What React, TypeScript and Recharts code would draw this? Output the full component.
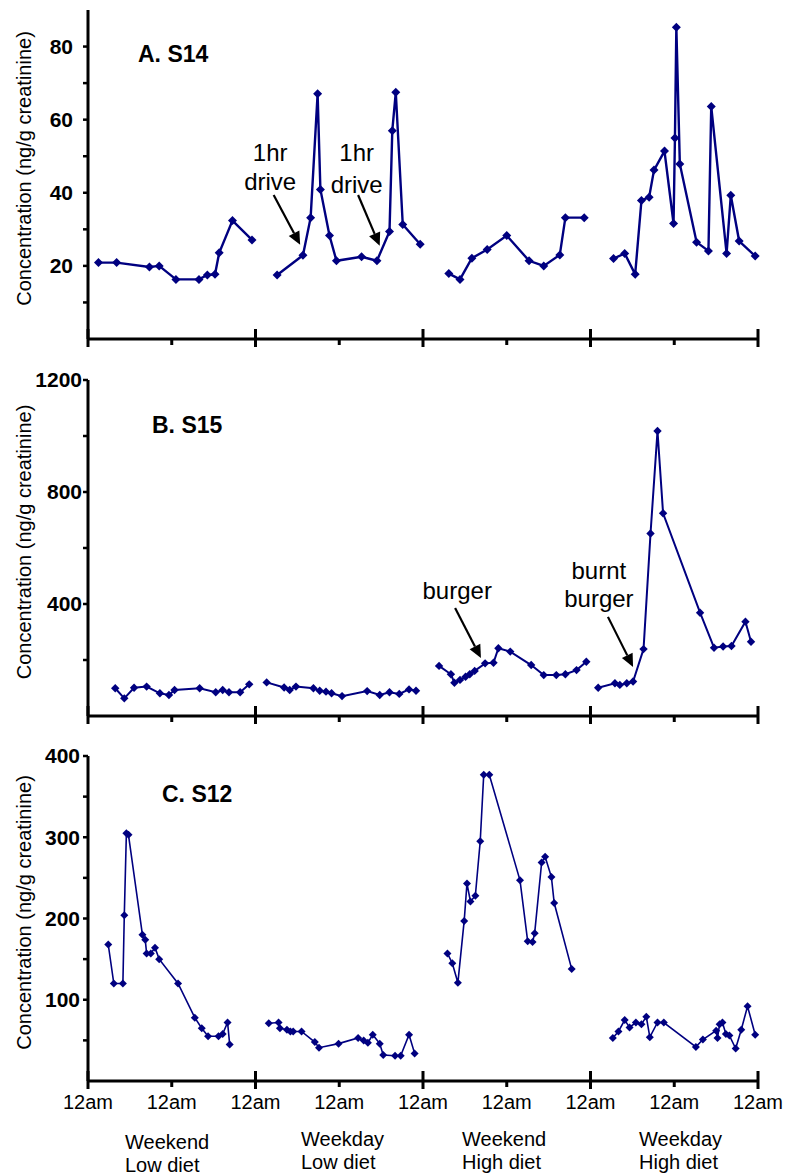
import React from 'react';
import { LineChart, Line, XAxis, YAxis, ReferenceDot, ReferenceLine } from 'recharts';

const FONT = '"Liberation Sans", Arial, Helvetica, sans-serif';
const NAVY = '#000080';

// hours since 12am of the first day; null values split the four days
const hourTicks = [0, 12, 24, 36, 48, 60, 72, 84, 96];
const hourLabels = ['12am', '12am', '12am', '12am', '12am', '12am', '12am', '12am', '12am'];
const groupTop = ['Weekend', 'Weekday', 'Weekend', 'Weekday'];
const groupBottom = ['Low diet', 'Low diet', 'High diet', 'High diet'];

// A. S14
const s14Hours = [
  1.5, 4.1, 8.8, 10.2, 12.6, 15.9, 17.1, 18.2, 18.8, 20.7, 23.5, 25,
  27.1, 30.8, 31.9, 32.9, 33.3, 34.6, 35.6, 39.2, 41.4, 43.2, 43.6, 44.1, 45.1, 47.6, 49.5,
  51.7, 53.3, 55.0, 57.2, 60.0, 63.2, 65.3, 67.6, 68.4, 71.1, 73,
  75.3, 76.9, 78.4, 79.3, 80.4, 81.1, 82.6, 83.9, 84.1, 84.3, 84.8, 87.2, 88.9, 89.3, 91.5, 92.1, 93.3, 95.6,
];
const s14Values = [
  20.9, 20.9, 19.7, 20.0, 16.3, 16.3, 17.5, 17.7, 23.6, 32.4, 27.1, null,
  17.5, 22.9, 33.2, 67.1, 40.9, 28.3, 21.4, 22.5, 21.4, 29.4, 57.0, 67.5, 31.3, 25.9, null,
  17.9, 16.3, 22.1, 24.5, 28.3, 21.4, 20.0, 23.0, 33.2, 33.2, null,
  22.0, 23.4, 17.7, 37.9, 38.8, 46.2, 51.4, 31.6, 55.0, 85.3, 47.9, 26.5, 24.1, 63.6, 23.4, 39.3, 26.8, 22.7,
];
const s14Notes = [
  { h: 26.1, v: 50.9, text: '1hr' },
  { h: 26.1, v: 43.0, text: 'drive' },
  { h: 38.5, v: 50.9, text: '1hr' },
  { h: 38.5, v: 42.2, text: 'drive' },
];
const s14Arrows = [
  { h1: 26.6, v1: 39.4, h2: 30.4, v2: 25.8 },
  { h1: 38.7, v1: 39.4, h2: 41.8, v2: 25.5 },
];

// B. S15
const s15Hours = [
  3.9, 5.2, 6.6, 8.4, 10.3, 11.6, 12.4, 16.0, 18.3, 19.3, 20.2, 21.8, 23.1, 24.3,
  25.6, 28.1, 28.9, 29.8, 32.3, 33.2, 34.1, 34.9, 36.4, 40.0, 41.8, 43.2, 44.6, 46.0, 47.0, 48.5,
  50.3, 52.0, 52.5, 53.3, 54.1, 54.7, 55.4, 56.9, 58.1, 58.8, 60.5, 63.5, 65.3, 67.1, 68.4, 70.0, 71.4, 72.3,
  73.1, 75.5, 76.2, 77.2, 78.1, 79.6, 80.6, 81.6, 82.4, 87.7, 89.7, 91.0, 92.2, 94.2, 95.0,
];
const s15Values = [
  99, 63, 101, 105, 81, 75, 93, 99, 85, 93, 85, 85, 113, null,
  120, 102, 93, 105, 99, 90, 87, 81, 71, 89, 75, 85, 79, 95, 90, null,
  179, 149, 119, 129, 140, 149, 161, 188, 190, 242, 230, 182, 146, 146, 149, 164, 194, null,
  101, 117, 111, 117, 123, 239, 652, 1018, 724, 369, 244, 248, 250, 337, 265,
];
const s15Notes = [
  { h: 52.9, v: 450, text: 'burger' },
  { h: 73.2, v: 521, text: 'burnt' },
  { h: 73.2, v: 418, text: 'burger' },
];
const s15Arrows = [
  { h1: 52.6, v1: 386, h2: 56.3, v2: 207 },
  { h1: 74.5, v1: 354, h2: 78.1, v2: 175 },
];

// C. S12
const s12Hours = [
  2.9, 3.7, 5.0, 5.2, 5.5, 5.8, 7.8, 8.2, 8.4, 9.0, 9.6, 10.2, 12.9, 15.3, 16.3, 17.2, 18.7, 19.3, 20.0, 20.3, 23,
  25.9, 27.3, 27.5, 28.5, 29.0, 29.4, 30.6, 32.5, 33.1, 35.9, 38.7, 39.5, 40.1, 40.8, 41.8, 42.3, 44.0, 44.8, 46.0, 46.8, 49.5,
  51.5, 52.2, 53.0, 53.9, 54.3, 54.8, 55.5, 56.2, 56.7, 57.5, 61.9, 63.0, 63.7, 64.0, 65.0, 65.5, 66.4, 66.8, 69.3, 72,
  75.2, 76.0, 76.9, 77.6, 78.5, 79.3, 80.0, 80.5, 81.6, 82.5, 87.1, 88.1, 90.0, 90.2, 90.5, 90.9, 91.4, 91.9, 92.8, 93.6, 94.5, 95.6,
];
const s12Values = [
  168, 120, 120, 204, 305, 303, 180, 174, 157, 157, 164, 150, 120, 78, 65, 55, 55, 58, 72, 45, null,
  71, 72, 65, 63, 61, 61, 61, 48, 41, 46, 53, 50, 47, 57, 46, 32, 31, 31, 57, 34, null,
  157, 145, 121, 197, 243, 221, 228, 295, 377, 377, 247, 172, 171, 182, 269, 276, 251, 219, 138, null,
  53, 61, 75, 66, 72, 70, 79, 54, 72, 72, 42, 51, 62, 53, 70, 72, 58, 56, 40, 63, 92, 57,
];

const toRows = (hours: number[], values: (number | null)[]) =>
  hours.map((h, i) => ({ h, v: values[i] }));

const Diamond = (props: any) => {
  const { cx, cy, index, size } = props;
  if (cx == null || cy == null || Number.isNaN(cx) || Number.isNaN(cy)) return <g key={`n-${index}`} />;
  const s = size;
  return (
    <path
      key={`d-${index}`}
      d={`M${cx},${cy - s}L${cx + s},${cy}L${cx},${cy + s}L${cx - s},${cy}Z`}
      fill={NAVY}
    />
  );
};

const ArrowShape = (props: any) => {
  const { x1, y1, x2, y2 } = props;
  const ang = Math.atan2(y2 - y1, x2 - x1);
  const len = 13;
  const half = 6;
  const bx = x2 - len * Math.cos(ang);
  const by = y2 - len * Math.sin(ang);
  const px = -Math.sin(ang) * half;
  const py = Math.cos(ang) * half;
  return (
    <g>
      <line x1={x1} y1={y1} x2={bx} y2={by} stroke="#000" strokeWidth={2.2} />
      <polygon points={`${x2},${y2} ${bx + px},${by + py} ${bx - px},${by - py}`} fill="#000" />
    </g>
  );
};

const HourTick = (props: any) => {
  const { x, y, payload, index, showLabel } = props;
  const major = payload.value % 24 === 0;
  return (
    <g>
      <line x1={x} x2={x} y1={major ? y - 10 : y} y2={y + (major ? 8 : 6)} stroke="#000" strokeWidth={3} />
      {showLabel && (
        <text x={x} y={y + 28} textAnchor="middle" fontSize={20} fontFamily={FONT} fill="#000">
          {hourLabels[index]}
        </text>
      )}
    </g>
  );
};

interface PanelProps {
  top: number;
  plotHeight: number;
  title: string;
  titleX: number;
  titleY: number;
  rows: { h: number; v: number | null }[];
  yDomain: [number, number];
  yTicks: number[];
  labelStep: number;
  tickGap: number;
  lineWidth: number;
  dotSize: number;
  notes?: { h: number; v: number; text: string }[];
  arrows?: { h1: number; v1: number; h2: number; v2: number }[];
  showHours?: boolean;
}

// extra room above the plot so the top tick label is not clipped
const PLOT_TOP = 18;

const Panel = (p: PanelProps) => {
  const xAxisHeight = p.showHours ? 42 : 14;
  const height = PLOT_TOP + p.plotHeight + xAxisHeight + 4;
  const labelCenter = PLOT_TOP + p.plotHeight / 2 - 6;
  return (
    <div style={{ position: 'absolute', left: 0, top: p.top - PLOT_TOP, width: 788, height }}>
      <LineChart
        width={788}
        height={height}
        data={p.rows}
        margin={{ top: PLOT_TOP, right: 30, bottom: 4, left: 0 }}
      >
        <XAxis
          dataKey="h"
          type="number"
          domain={[0, 96]}
          ticks={hourTicks}
          interval={0}
          height={xAxisHeight}
          tickSize={0}
          tickMargin={0}
          tickLine={false}
          axisLine={{ stroke: '#000', strokeWidth: 3 }}
          tick={(tp: any) => <HourTick {...tp} showLabel={!!p.showHours} />}
        />
        <YAxis
          type="number"
          domain={p.yDomain}
          ticks={p.yTicks}
          interval={0}
          width={88}
          tickSize={5}
          tickMargin={p.tickGap}
          allowDataOverflow
          tickFormatter={(v: number) => (v % p.labelStep === 0 ? String(v) : '')}
          tick={{ fontSize: 21, fontWeight: 'bold', fill: '#000', fontFamily: FONT }}
          tickLine={{ stroke: '#000', strokeWidth: 2.5 }}
          axisLine={{ stroke: '#000', strokeWidth: 3 }}
        />
        <Line
          type="linear"
          dataKey="v"
          stroke={NAVY}
          strokeWidth={p.lineWidth}
          connectNulls={false}
          isAnimationActive={false}
          dot={(dp: any) => <Diamond key={`dot-${dp.index}`} {...dp} size={p.dotSize} />}
          activeDot={false}
        />
        {(p.arrows || []).map((a, i) => (
          <ReferenceLine
            key={`a-${i}`}
            segment={[{ x: a.h1, y: a.v1 }, { x: a.h2, y: a.v2 }]}
            ifOverflow="visible"
            shape={ArrowShape}
          />
        ))}
        {(p.notes || []).map((n, i) => (
          <ReferenceDot
            key={`n-${i}`}
            x={n.h}
            y={n.v}
            r={0}
            ifOverflow="visible"
            shape={(sp: any) => (
              <text
                x={sp.cx}
                y={sp.cy}
                textAnchor="middle"
                dominantBaseline="central"
                fontSize={24}
                fontFamily={FONT}
                fill="#000"
              >
                {n.text}
              </text>
            )}
          />
        ))}
      </LineChart>
      <svg
        width={788}
        height={height}
        style={{ position: 'absolute', left: 0, top: 0, pointerEvents: 'none' }}
      >
        <text
          x={p.titleX}
          y={p.titleY + PLOT_TOP - 10}
          fontSize={23}
          fontWeight="bold"
          fontFamily={FONT}
          fill="#000"
        >
          {p.title}
        </text>
        <text
          x={24}
          y={labelCenter}
          transform={`rotate(-90 24 ${labelCenter})`}
          textAnchor="middle"
          dominantBaseline="central"
          fontSize={20}
          fontFamily={FONT}
          fill="#000"
        >
          Concentration (ng/g creatinine)
        </text>
      </svg>
    </div>
  );
};

const groupX = [125, 301, 462, 639];

export default function App() {
  return (
    <div
      style={{
        position: 'absolute',
        left: 0,
        top: 0,
        width: 788,
        height: 1175,
        background: '#fff',
        fontFamily: FONT,
      }}
    >
      <Panel
        top={10}
        plotHeight={329}
        title="A. S14"
        titleX={138}
        titleY={62}
        rows={toRows(s14Hours, s14Values)}
        yDomain={[0, 90]}
        yTicks={[10, 20, 30, 40, 50, 60, 70, 80]}
        labelStep={20}
        tickGap={10}
        lineWidth={2.4}
        dotSize={4.5}
        notes={s14Notes}
        arrows={s14Arrows}
      />
      <Panel
        top={380}
        plotHeight={336}
        title="B. S15"
        titleX={152}
        titleY={63}
        rows={toRows(s15Hours, s15Values)}
        yDomain={[0, 1200]}
        yTicks={[200, 400, 600, 800, 1000, 1200]}
        labelStep={400}
        tickGap={1}
        lineWidth={2}
        dotSize={4.2}
        notes={s15Notes}
        arrows={s15Arrows}
      />
      <Panel
        top={756}
        plotHeight={325}
        title="C. S12"
        titleX={162}
        titleY={56}
        rows={toRows(s12Hours, s12Values)}
        yDomain={[0, 400]}
        yTicks={[50, 100, 150, 200, 250, 300, 350, 400]}
        labelStep={100}
        tickGap={3}
        lineWidth={1.6}
        dotSize={4}
        showHours
      />
      <svg width={788} height={1175} style={{ position: 'absolute', left: 0, top: 0, pointerEvents: 'none' }}>
        {groupTop.map((t, i) => (
          <g key={`g-${i}`}>
            <text x={groupX[i]} y={i === 0 ? 1149 : 1146} fontSize={20} fontFamily={FONT} fill="#000">
              {t}
            </text>
            <text x={groupX[i]} y={i === 0 ? 1172 : 1169} fontSize={20} fontFamily={FONT} fill="#000">
              {groupBottom[i]}
            </text>
          </g>
        ))}
      </svg>
    </div>
  );
}
